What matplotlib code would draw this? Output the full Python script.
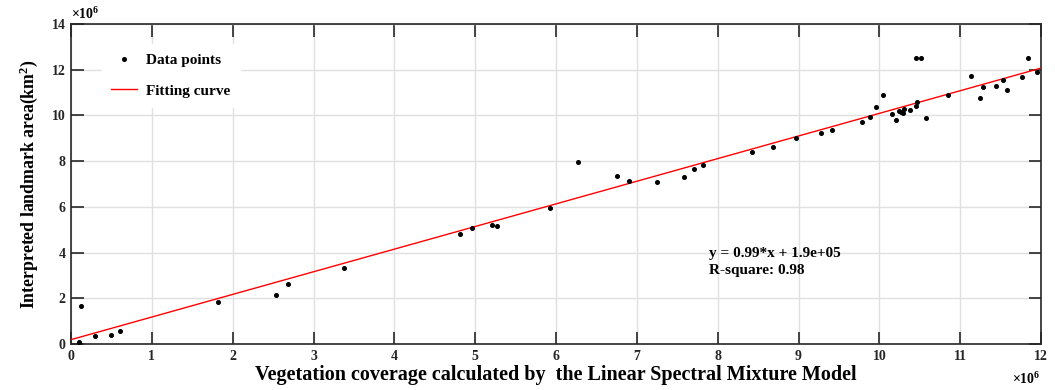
import matplotlib.pyplot as plt
import numpy as np

# values in units of 1e6
x_vals = [0.10, 0.12, 0.30, 0.49, 0.61, 1.82, 2.53, 2.68, 3.38, 4.81, 4.96, 5.21, 5.27,
          5.93, 6.27, 6.75, 6.90, 7.25, 7.58, 7.71, 7.82, 8.43, 8.69, 8.97, 9.28, 9.41,
          9.78, 9.89, 9.96, 10.05, 10.16, 10.21, 10.24, 10.27, 10.29, 10.30, 10.38,
          10.45, 10.46, 10.45, 10.52, 10.58, 10.85, 11.14, 11.24, 11.28, 11.44, 11.53,
          11.58, 11.77, 11.84, 11.95]
y_vals = [0.09, 1.66, 0.35, 0.39, 0.57, 1.83, 2.15, 2.61, 3.31, 4.81, 5.08, 5.20, 5.16,
          5.95, 7.96, 7.35, 7.15, 7.08, 7.32, 7.67, 7.83, 8.41, 8.62, 9.00, 9.24, 9.38,
          9.70, 9.95, 10.37, 10.90, 10.07, 9.80, 10.21, 10.15, 10.12, 10.30, 10.23,
          10.43, 10.58, 12.52, 12.52, 9.88, 10.90, 11.73, 10.75, 11.24, 11.27, 11.53,
          11.11, 11.68, 12.52, 11.89]
slope = 0.99
intercept = 0.19
fit_x = [0, 12]

plt.rcParams['font.family'] = ['Liberation Serif', 'DejaVu Serif']
plt.rcParams['font.weight'] = 'bold'
plt.rcParams['mathtext.fontset'] = 'custom'
plt.rcParams['mathtext.rm'] = 'Liberation Serif:bold'
plt.rcParams['mathtext.it'] = 'Liberation Serif:bold'

fig = plt.figure(figsize=(10.55, 3.9), dpi=100)
ax = fig.add_axes([71 / 1055, 46 / 390, 970 / 1055, 320 / 390])

fit_y = [slope * v + intercept for v in fit_x]
ax.plot(fit_x, fit_y, color='#ff0000', lw=1.0, label='Fitting curve', zorder=3)
ax.plot(x_vals, y_vals, 'o', color='black', ms=2.6, label='Data points', zorder=4)

ax.set_xlim(0, 12)
ax.set_ylim(0, 14)
ax.set_xticks(range(0, 13))
ax.set_yticks(range(0, 15, 2))
ax.grid(color='#e0e0e0', lw=1.0)
ax.set_axisbelow(True)
ax.tick_params(direction='in', length=9, width=1.2, top=True, right=True,
               labelsize=10, colors='#262626', pad=4)
for lab in ax.get_xticklabels() + ax.get_yticklabels():
    lab.set_fontweight('bold')
for sp in ax.spines.values():
    sp.set_color('#262626')
    sp.set_linewidth(1.2)

ax.set_xlabel('Vegetation coverage calculated by  the Linear Spectral Mixture Model',
              fontsize=14.5, fontweight='bold', labelpad=2)
ax.set_ylabel('Interpreted landmark area(km$^2$)', fontsize=12.8, fontweight='bold', labelpad=8)

ax.text(0.0, 1.005, r'$\times 10^6$', transform=ax.transAxes, fontsize=10,
        ha='left', va='bottom')
ax.text(1.0, -0.085, r'$\times 10^6$', transform=ax.transAxes, fontsize=10,
        ha='right', va='top')

ax.text(7.89, 3.59, 'y = 0.99*x + 1.9e+05\nR-square: 0.98', fontsize=11,
        fontweight='bold', ha='left', va='center', linespacing=1.4)

handles, labels = ax.get_legend_handles_labels()
leg = ax.legend([handles[1], handles[0]], [labels[1], labels[0]], loc='upper left',
                bbox_to_anchor=(0.024, 0.96), frameon=True, fontsize=11,
                handlelength=1.7, handletextpad=0.6, labelspacing=1.1, borderpad=0.6)
leg.get_frame().set_edgecolor('white')
leg.get_frame().set_facecolor('white')
leg.get_frame().set_alpha(1)

fig.savefig('out.png', dpi=100)
